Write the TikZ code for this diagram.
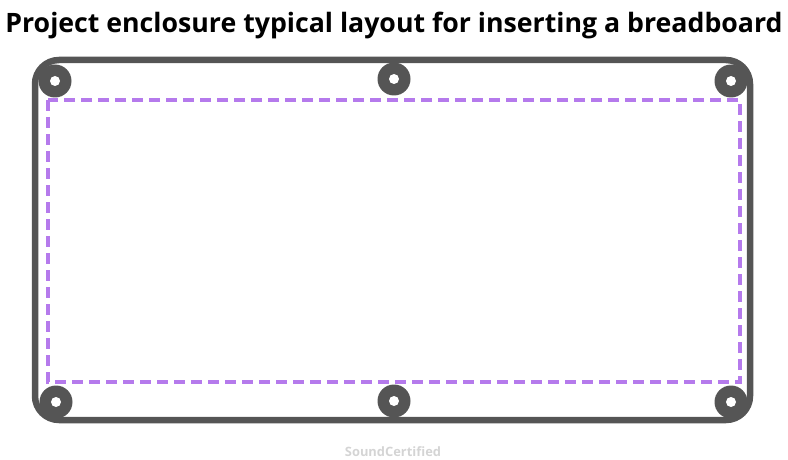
\documentclass[tikz,border=0pt]{standalone}
\usepackage{fontspec}
\setmainfont{Open Sans}
\usepackage{tikz}
\usetikzlibrary{calc}

\definecolor{casegray}{HTML}{555555}
\definecolor{boardpurple}{HTML}{B57AEC}
\definecolor{markgray}{HTML}{D4D4D4}

\tikzset{
  casewall/.style = {draw = casegray, line width = 6.5pt, rounded corners = 24pt},
  boardarea/.style = {draw = boardpurple, line width = 3.5pt, dash pattern = on 11pt off 6pt},
  boss/.style = {fill = casegray},
  bosshole/.style = {fill = white}
}

\begin{document}
\begin{tikzpicture}[x = 1pt, y = -1pt]
\useasboundingbox (0, 0) rectangle (788, 460);
\node[font = \bfseries\fontsize{26.7}{30}\selectfont] (title) at (394, 25) {Project enclosure typical layout for inserting a breadboard};
\draw[casewall] (35, 60) rectangle (750, 420);
\draw[boardarea] (48, 100) rectangle (740, 382);
% screw bosses
\foreach \bx/\by in {55/81, 394/79, 731/81, 56/402, 394/401, 731/402} {
  \fill[boss] (\bx, \by) circle (16.5);
  \fill[bosshole] (\bx, \by) circle (5);
}
\node[font = \bfseries\fontsize{12.9}{15}\selectfont, text = markgray] (credit) at (393, 452) {SoundCertified};
\end{tikzpicture}
\end{document}
